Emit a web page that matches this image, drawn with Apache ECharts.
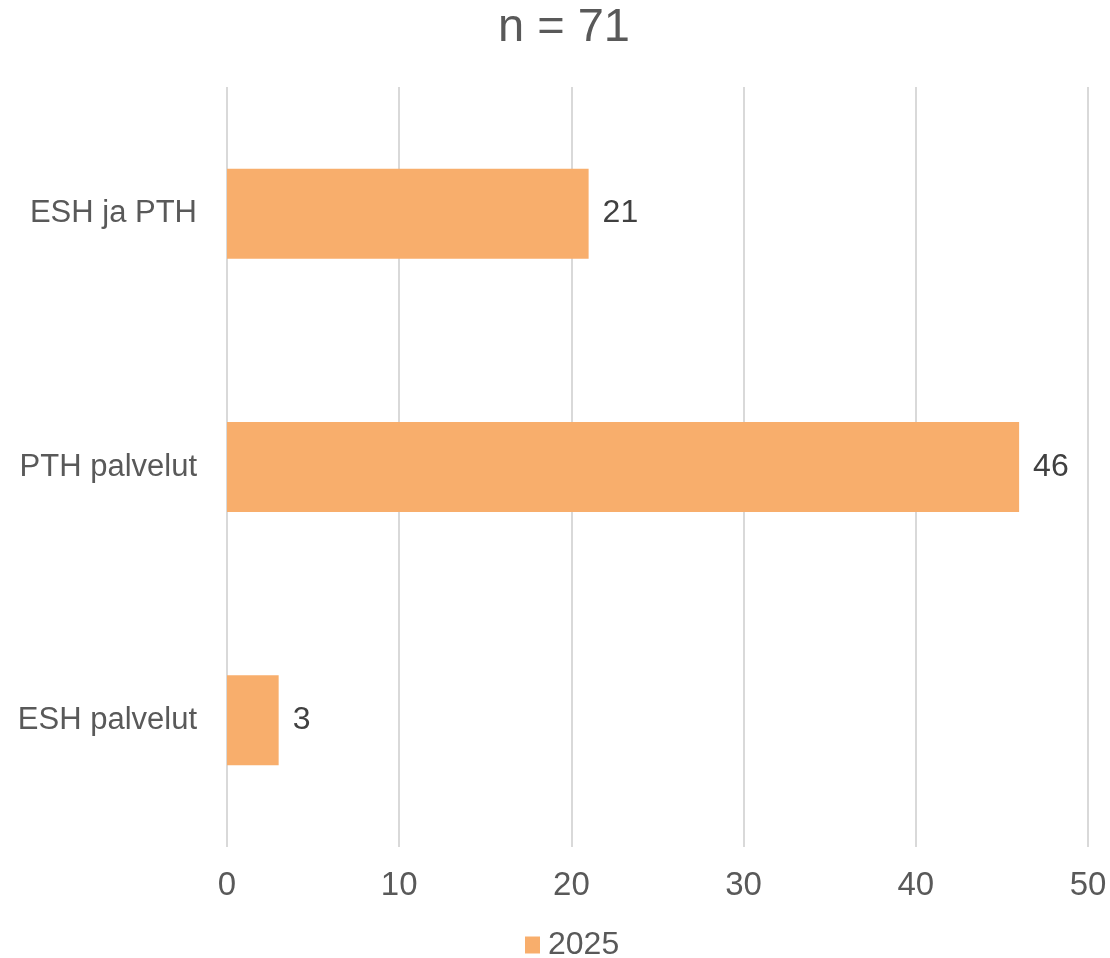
<!DOCTYPE html>
<html>
<head>
<meta charset="utf-8">
<script src="https://cdn.jsdelivr.net/npm/echarts@6/dist/echarts.min.js"></script>
<style>html,body{margin:0;padding:0;background:#fff}#c{width:1110px;height:958px}</style>
</head>
<body>
<div id="c"></div>
<script>
const titleText = 'n = 71';
const categories = ['ESH palvelut', 'PTH palvelut', 'ESH ja PTH'];
const seriesName = '2025';
const values = [3, 46, 21];
const xTicks = { min: 0, max: 50, interval: 10 };

const chart = echarts.init(document.getElementById('c'));
const font = 'Liberation Sans, Arial, sans-serif';
chart.setOption({
  animation: false,
  backgroundColor: '#fff',
  title: {
    text: titleText, left: 498, top: 5, padding: 0,
    textStyle: { fontFamily: font, fontSize: 47, fontWeight: 'normal', color: '#595959' }
  },
  legend: {
    data: [seriesName], top: 929, left: 525, padding: 0,
    icon: 'rect', itemWidth: 15, itemHeight: 17, itemGap: 5,
    textStyle: { fontFamily: font, fontSize: 32, color: '#595959', padding: [0, 0, 0, 3] }
  },
  grid: { left: 227, right: 22, top: 87, bottom: 111, containLabel: false },
  xAxis: {
    type: 'value', min: xTicks.min, max: xTicks.max, interval: xTicks.interval,
    axisLine: { show: false }, axisTick: { show: false },
    splitLine: { show: true, lineStyle: { color: '#d9d9d9', width: 2 } },
    axisLabel: { fontFamily: font, fontSize: 33, color: '#595959', margin: 22 }
  },
  yAxis: {
    type: 'category', data: categories,
    axisLine: { show: false }, axisTick: { show: false },
    axisLabel: { fontFamily: font, fontSize: 31, color: '#595959', margin: 30 }
  },
  series: [{
    name: seriesName, type: 'bar', data: values, barWidth: '35.5%',
    itemStyle: { color: '#F8AE6C' },
    label: { show: true, position: 'right', distance: 14, fontFamily: font, fontSize: 32, color: '#404040' }
  }]
});
</script>
</body>
</html>
